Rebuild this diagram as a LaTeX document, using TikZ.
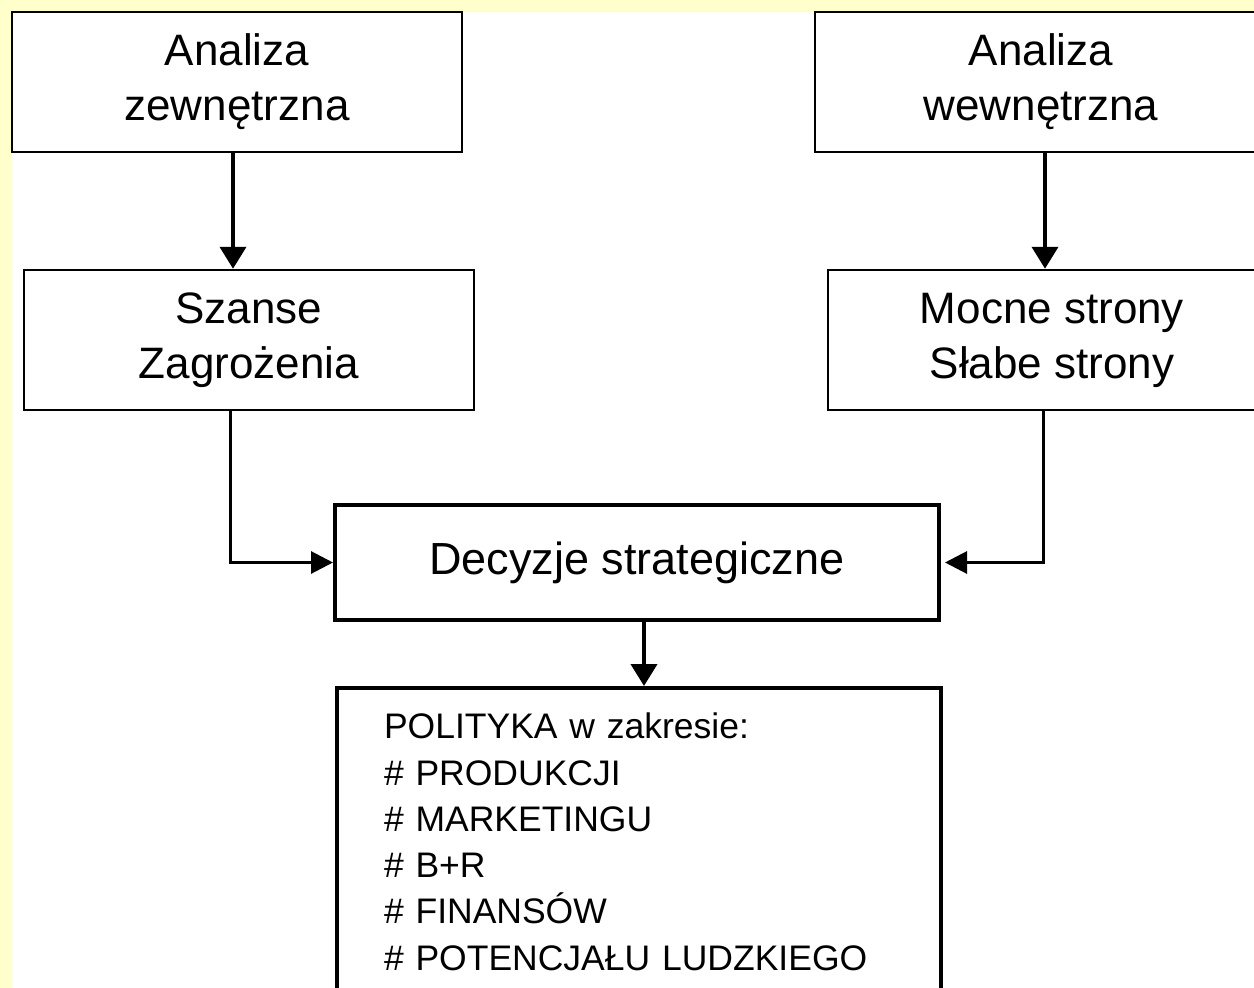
\documentclass[tikz,border=0pt]{standalone}
\usepackage{fontspec}
\setmainfont{Liberation Sans}
\usetikzlibrary{arrows.meta,calc}
\definecolor{bgyellow}{RGB}{255,255,204}
\begin{document}
\begin{tikzpicture}[x=1pt,y=-1pt,
  topbox/.style={draw=black, line width=2.5pt, fill=white, inner sep=0pt,
    align=center, font=\fontsize{44}{55}\selectfont, minimum height=140pt},
  midbox/.style={draw=black, line width=4pt, fill=white, inner sep=0pt,
    align=center, font=\fontsize{45}{55}\selectfont},
  varrow/.style={line width=4pt, -{Triangle[length=22pt,width=26pt]}},
  elbow/.style={line width=3pt, -{Triangle[length=22pt,width=22pt]}}]
\useasboundingbox (0,0) rectangle (1254,988);
\fill[bgyellow] (0,0) rectangle (1254,988);
\clip (0,0) rectangle (1254,988);
\fill[white] (12,12) rectangle (1254,988);

\node[topbox, minimum width=450pt] (az) at (237,82) {Analiza\\zewnętrzna};
\node[topbox, minimum width=452pt] (aw) at (1041,82) {Analiza\\wewnętrzna};
\node[topbox, minimum width=450pt] (sz) at (249,340) {Szanse\\Zagrożenia};
\node[topbox, minimum width=448pt] (ms) at (1052,340) {Mocne strony\\Słabe strony};
\node[midbox, minimum width=604pt, minimum height=115pt] (dec) at (637,562.5) {Decyzje strategiczne};
\node[draw=black, line width=4pt, fill=white, anchor=north west,
  inner xsep=47pt, inner ysep=25pt, text width=510pt, align=left,
  font=\fontsize{35.5}{46.3}\selectfont] (pol) at (335,686)
  {POLITYKA w zakresie:\\
   \# PRODUKCJI\\
   \# MARKETINGU\\
   \# B+R\\
   \# FINANSÓW\\
   \# POTENCJAŁU LUDZKIEGO\rule[-60pt]{0pt}{1pt}};

\draw[varrow] ([xshift=-4pt]az.south) -- ([xshift=-4pt]az.south |- sz.north);
\draw[varrow] ([xshift=4pt]aw.south) -- ([xshift=4pt]aw.south |- ms.north);
\draw[elbow] ([xshift=-19pt]sz.south) |- (dec.west);
\draw[elbow] ([xshift=-9pt]ms.south) |- ([xshift=4pt]dec.east);
\draw[varrow] ([xshift=7pt]dec.south) -- ([xshift=7pt]dec.south |- pol.north);
\end{tikzpicture}
\end{document}
